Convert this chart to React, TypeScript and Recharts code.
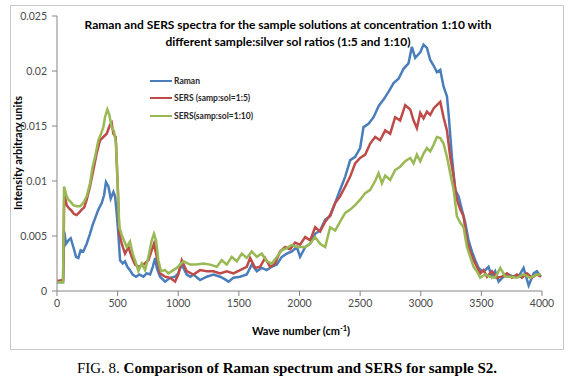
import React from 'react';
import { LineChart, Line, XAxis, YAxis, Legend } from 'recharts';

// wave number (cm-1), intensity (arbitrary units)
const ramanPoints: [number, number][] = [
  [0, 0.0008], [50, 0.0008], [60, 0.0054], [74, 0.0043], [94, 0.0046], [113, 0.0048], [135, 0.004], [157, 0.0031],
  [176, 0.003], [195, 0.0037], [217, 0.0036], [245, 0.0043], [272, 0.0052], [294, 0.006], [314, 0.0066], [341, 0.0074],
  [369, 0.008], [388, 0.0087], [404, 0.0099], [424, 0.0095], [443, 0.0084], [465, 0.009], [479, 0.0086], [492, 0.0071],
  [506, 0.0052], [520, 0.0028], [542, 0.0025], [561, 0.0027], [580, 0.0022], [602, 0.0019], [624, 0.0015], [652, 0.0013],
  [679, 0.0015], [712, 0.0013], [740, 0.0016], [768, 0.0015], [790, 0.0022], [809, 0.003], [823, 0.0021], [850, 0.0013],
  [891, 0.00085], [933, 0.0012], [974, 0.0013], [1000, 0.0016], [1029, 0.0024], [1070, 0.0015], [1100, 0.0013], [1125, 0.0015],
  [1180, 0.001], [1235, 0.0013], [1290, 0.0015], [1345, 0.0013], [1380, 0.0011], [1414, 0.00085], [1455, 0.0012], [1510, 0.0013],
  [1565, 0.0015], [1606, 0.0024], [1648, 0.0018], [1689, 0.0021], [1730, 0.0019], [1771, 0.0022], [1813, 0.0024], [1854, 0.0031],
  [1895, 0.0034], [1937, 0.0036], [1978, 0.004], [2005, 0.0031], [2047, 0.004], [2088, 0.0043], [2129, 0.0052], [2170, 0.0055],
  [2212, 0.0065], [2253, 0.0068], [2294, 0.008], [2335, 0.0092], [2377, 0.0104], [2418, 0.0119], [2459, 0.0122], [2500, 0.013],
  [2528, 0.0149], [2569, 0.0152], [2611, 0.0158], [2652, 0.0168], [2693, 0.0174], [2734, 0.0181], [2776, 0.0189], [2817, 0.0193],
  [2858, 0.0202], [2899, 0.0207], [2927, 0.0222], [2954, 0.0212], [2996, 0.0217], [3023, 0.0224], [3051, 0.0221], [3078, 0.021],
  [3106, 0.0205], [3133, 0.0199], [3161, 0.0201], [3188, 0.0186], [3216, 0.0177], [3229, 0.0162], [3257, 0.0122], [3284, 0.0092],
  [3312, 0.0086], [3339, 0.0074], [3367, 0.0062], [3394, 0.0046], [3422, 0.0036], [3449, 0.0028], [3477, 0.0021], [3504, 0.0018],
  [3532, 0.0019], [3559, 0.0022], [3587, 0.0013], [3614, 0.0018], [3642, 0.00085], [3683, 0.0013], [3725, 0.0015], [3766, 0.0013],
  [3807, 0.0013], [3848, 0.0021], [3890, 0.0005], [3931, 0.0016], [3958, 0.0018], [3991, 0.0013],
];

const sers15Points: [number, number][] = [
  [0, 0.0009], [50, 0.001], [60, 0.0088], [80, 0.0078], [100, 0.0075], [120, 0.0073], [140, 0.007], [162, 0.0069],
  [180, 0.0071], [204, 0.0074], [225, 0.0076], [245, 0.0083], [272, 0.0095], [300, 0.011], [327, 0.0125], [355, 0.0137],
  [382, 0.014], [410, 0.0143], [437, 0.0151], [451, 0.0153], [465, 0.0143], [484, 0.014], [500, 0.0098], [514, 0.0052],
  [534, 0.0043], [561, 0.0034], [589, 0.004], [616, 0.0031], [644, 0.0024], [671, 0.0022], [712, 0.0024], [754, 0.0028],
  [781, 0.0037], [800, 0.0043], [823, 0.0031], [850, 0.0016], [891, 0.0013], [933, 0.0012], [974, 0.00085], [1000, 0.0015],
  [1029, 0.0028], [1070, 0.0018], [1125, 0.0015], [1180, 0.0019], [1235, 0.0018], [1290, 0.0018], [1345, 0.0016], [1400, 0.0018],
  [1455, 0.0016], [1510, 0.0019], [1565, 0.0022], [1593, 0.003], [1634, 0.0021], [1675, 0.0022], [1716, 0.003], [1758, 0.0022],
  [1799, 0.0025], [1840, 0.0036], [1882, 0.004], [1923, 0.0038], [1964, 0.0044], [2005, 0.0042], [2047, 0.0049], [2088, 0.0046],
  [2129, 0.0058], [2170, 0.0054], [2212, 0.0063], [2253, 0.0069], [2294, 0.008], [2335, 0.0086], [2377, 0.0095], [2418, 0.0104],
  [2459, 0.0116], [2500, 0.0121], [2542, 0.0124], [2583, 0.0134], [2624, 0.014], [2665, 0.0137], [2707, 0.0146], [2748, 0.0143],
  [2789, 0.0158], [2830, 0.0155], [2872, 0.0169], [2913, 0.0165], [2941, 0.0155], [2968, 0.0148], [2996, 0.0162], [3023, 0.0157],
  [3051, 0.0163], [3078, 0.016], [3106, 0.0166], [3133, 0.0169], [3161, 0.0172], [3188, 0.0158], [3216, 0.0146], [3243, 0.0122],
  [3271, 0.0104], [3298, 0.0083], [3326, 0.0074], [3353, 0.0068], [3381, 0.0046], [3408, 0.0036], [3436, 0.0028], [3463, 0.0022],
  [3491, 0.0016], [3518, 0.0019], [3546, 0.0013], [3587, 0.0018], [3628, 0.0012], [3669, 0.0013], [3711, 0.0016], [3752, 0.0012],
  [3793, 0.0015], [3835, 0.0012], [3876, 0.0016], [3917, 0.0012], [3958, 0.0015], [3991, 0.0013],
];

const sers110Points: [number, number][] = [
  [0, 0.0008], [50, 0.0008], [58, 0.0095], [80, 0.0086], [94, 0.0083], [113, 0.0081], [135, 0.0078], [162, 0.0077],
  [190, 0.0077], [217, 0.008], [245, 0.0086], [272, 0.0098], [294, 0.0113], [314, 0.0122], [341, 0.0137], [360, 0.0142],
  [382, 0.0149], [396, 0.0158], [415, 0.0165], [432, 0.016], [451, 0.0149], [470, 0.0145], [487, 0.0134], [500, 0.0098],
  [514, 0.0058], [534, 0.0051], [553, 0.0046], [575, 0.004], [602, 0.0045], [624, 0.0034], [652, 0.0025], [671, 0.0018],
  [699, 0.0025], [726, 0.0019], [754, 0.0031], [781, 0.0046], [800, 0.0052], [817, 0.0046], [836, 0.0028], [858, 0.0018],
  [891, 0.0019], [919, 0.0016], [960, 0.0019], [988, 0.0021], [1043, 0.0027], [1097, 0.0024], [1153, 0.0024], [1208, 0.0025],
  [1263, 0.0024], [1318, 0.0022], [1359, 0.0028], [1400, 0.0024], [1441, 0.0031], [1483, 0.0027], [1524, 0.0034], [1565, 0.003],
  [1606, 0.0036], [1648, 0.0031], [1689, 0.0034], [1730, 0.0027], [1771, 0.0025], [1813, 0.0031], [1854, 0.0037], [1895, 0.0039],
  [1937, 0.0042], [1978, 0.004], [2005, 0.004], [2047, 0.004], [2088, 0.0043], [2129, 0.0049], [2170, 0.0043], [2212, 0.004],
  [2253, 0.0058], [2294, 0.0055], [2335, 0.0063], [2377, 0.0071], [2418, 0.0074], [2459, 0.0078], [2500, 0.0083], [2542, 0.0089],
  [2583, 0.0092], [2624, 0.01], [2652, 0.0107], [2680, 0.0098], [2707, 0.0105], [2748, 0.0101], [2789, 0.011], [2830, 0.0113],
  [2872, 0.0118], [2913, 0.0121], [2941, 0.0116], [2968, 0.0124], [2996, 0.0118], [3023, 0.0125], [3051, 0.013], [3078, 0.0127],
  [3106, 0.0133], [3133, 0.014], [3161, 0.0139], [3188, 0.0134], [3216, 0.0122], [3243, 0.0107], [3271, 0.0092], [3298, 0.0068],
  [3326, 0.0062], [3353, 0.0058], [3381, 0.004], [3408, 0.0031], [3436, 0.0022], [3463, 0.0018], [3491, 0.0012], [3532, 0.0015],
  [3573, 0.0013], [3614, 0.0012], [3656, 0.0021], [3697, 0.0013], [3738, 0.0013], [3793, 0.0012], [3848, 0.0015], [3903, 0.0012],
  [3958, 0.0015], [3991, 0.0015],
];

const seriesNames = ['Raman', 'SERS (samp:sol=1:5)', 'SERS(samp:sol=1:10)'];
const seriesColors = ['#4A7EBB', '#BE4B48', '#98B954'];
const xTicks = [0, 500, 1000, 1500, 2000, 2500, 3000, 3500, 4000];
const yTicks = [0, 0.005, 0.01, 0.015, 0.02, 0.025];
const yTickLabels = ['0', '0.005', '0.01', '0.015', '0.02', '0.025'];
const titleLines = [
  'Raman and SERS spectra for the sample solutions at concentration 1:10  with',
  'different sample:silver sol ratios (1:5 and 1:10)',
];

const toRows = (pts: [number, number][]) => pts.map(([x, y]) => ({ x, y }));
const seriesData = [toRows(ramanPoints), toRows(sers15Points), toRows(sers110Points)];

const tickStyle = { fontFamily: 'Lato', fontSize: 10.5, fill: '#4a4a4a' };
const axisColor = '#868686';

const LegendBox = () => (
  <div style={{ fontFamily: 'Lato', fontSize: 8.5, fontWeight: 700, color: '#262626' }}>
    {seriesNames.map((n, i) => (
      <div key={n} style={{ display: 'flex', alignItems: 'center', height: 17.5, whiteSpace: 'nowrap' }}>
        <span style={{ display: 'inline-block', width: 22, height: 0, borderTop: `2.5px solid ${seriesColors[i]}`, marginRight: 2 }} />
        {n}
      </div>
    ))}
  </div>
);

export default function App() {
  return (
    <div style={{ position: 'absolute', left: 0, top: 0, width: 574, height: 382, background: '#fff', overflow: 'hidden' }}>
      <div style={{ position: 'absolute', left: 10, top: 5, width: 554, height: 345, border: '1px solid #c8c8c8', boxSizing: 'border-box' }} />
      <div style={{ position: 'absolute', left: 0, top: 0 }}>
        <LineChart width={574} height={382} margin={{ top: 16, right: 32, left: 0, bottom: 61 }}>
          <XAxis
            type="number"
            dataKey="x"
            domain={[0, 4000]}
            ticks={xTicks}
            allowDataOverflow
            height={30}
            tick={tickStyle}
            tickSize={5}
            tickMargin={4}
            stroke={axisColor}
            tickLine={{ stroke: axisColor }}
          />
          <YAxis
            type="number"
            domain={[0, 0.025]}
            ticks={yTicks}
            allowDataOverflow
            width={57}
            tick={tickStyle}
            tickSize={5}
            tickMargin={5}
            tickFormatter={(v: number) => yTickLabels[yTicks.indexOf(v)] ?? String(v)}
            stroke={axisColor}
            tickLine={{ stroke: axisColor }}
          />
          <Legend
            layout="vertical"
            align="center"
            verticalAlign="middle"
            content={() => <LegendBox />}
            wrapperStyle={{ left: 150, top: 72, width: 140, height: 54 }}
          />
          {seriesData.map((d, i) => (
            <Line
              key={seriesNames[i]}
              data={d}
              dataKey="y"
              name={seriesNames[i]}
              stroke={seriesColors[i]}
              strokeWidth={2.5}
              dot={false}
              activeDot={false}
              type="linear"
              isAnimationActive={false}
            />
          ))}
        </LineChart>
      </div>
      <svg width={574} height={382} style={{ position: 'absolute', left: 0, top: 0, pointerEvents: 'none' }}>
        {titleLines.map((t, i) => (
          <text key={i} x={288} y={29 + i * 17} textAnchor="middle" fontFamily="Lato" fontWeight={700} fontSize={12} fill="#000">
            {t}
          </text>
        ))}
        <text
          transform="translate(22,153) rotate(-90)"
          textAnchor="middle"
          fontFamily="Lato"
          fontWeight={700}
          fontSize={11}
          fill="#000"
        >
          Intensity arbitrary units
        </text>
        <text x={301} y={335} textAnchor="middle" fontFamily="Lato" fontWeight={700} fontSize={11} fill="#000">
          Wave number (cm<tspan fontSize={7.5} dy={-4}>-1</tspan><tspan dy={4}>)</tspan>
        </text>
      </svg>
      <div
        style={{
          position: 'absolute',
          left: 0,
          top: 358,
          width: 574,
          textAlign: 'center',
          fontFamily: 'Liberation Serif',
          fontSize: 15,
          lineHeight: '20px',
          color: '#000',
          whiteSpace: 'nowrap',
        }}
      >
        FIG. 8. <b>Comparison of Raman spectrum and SERS for sample S2.</b>
      </div>
    </div>
  );
}
